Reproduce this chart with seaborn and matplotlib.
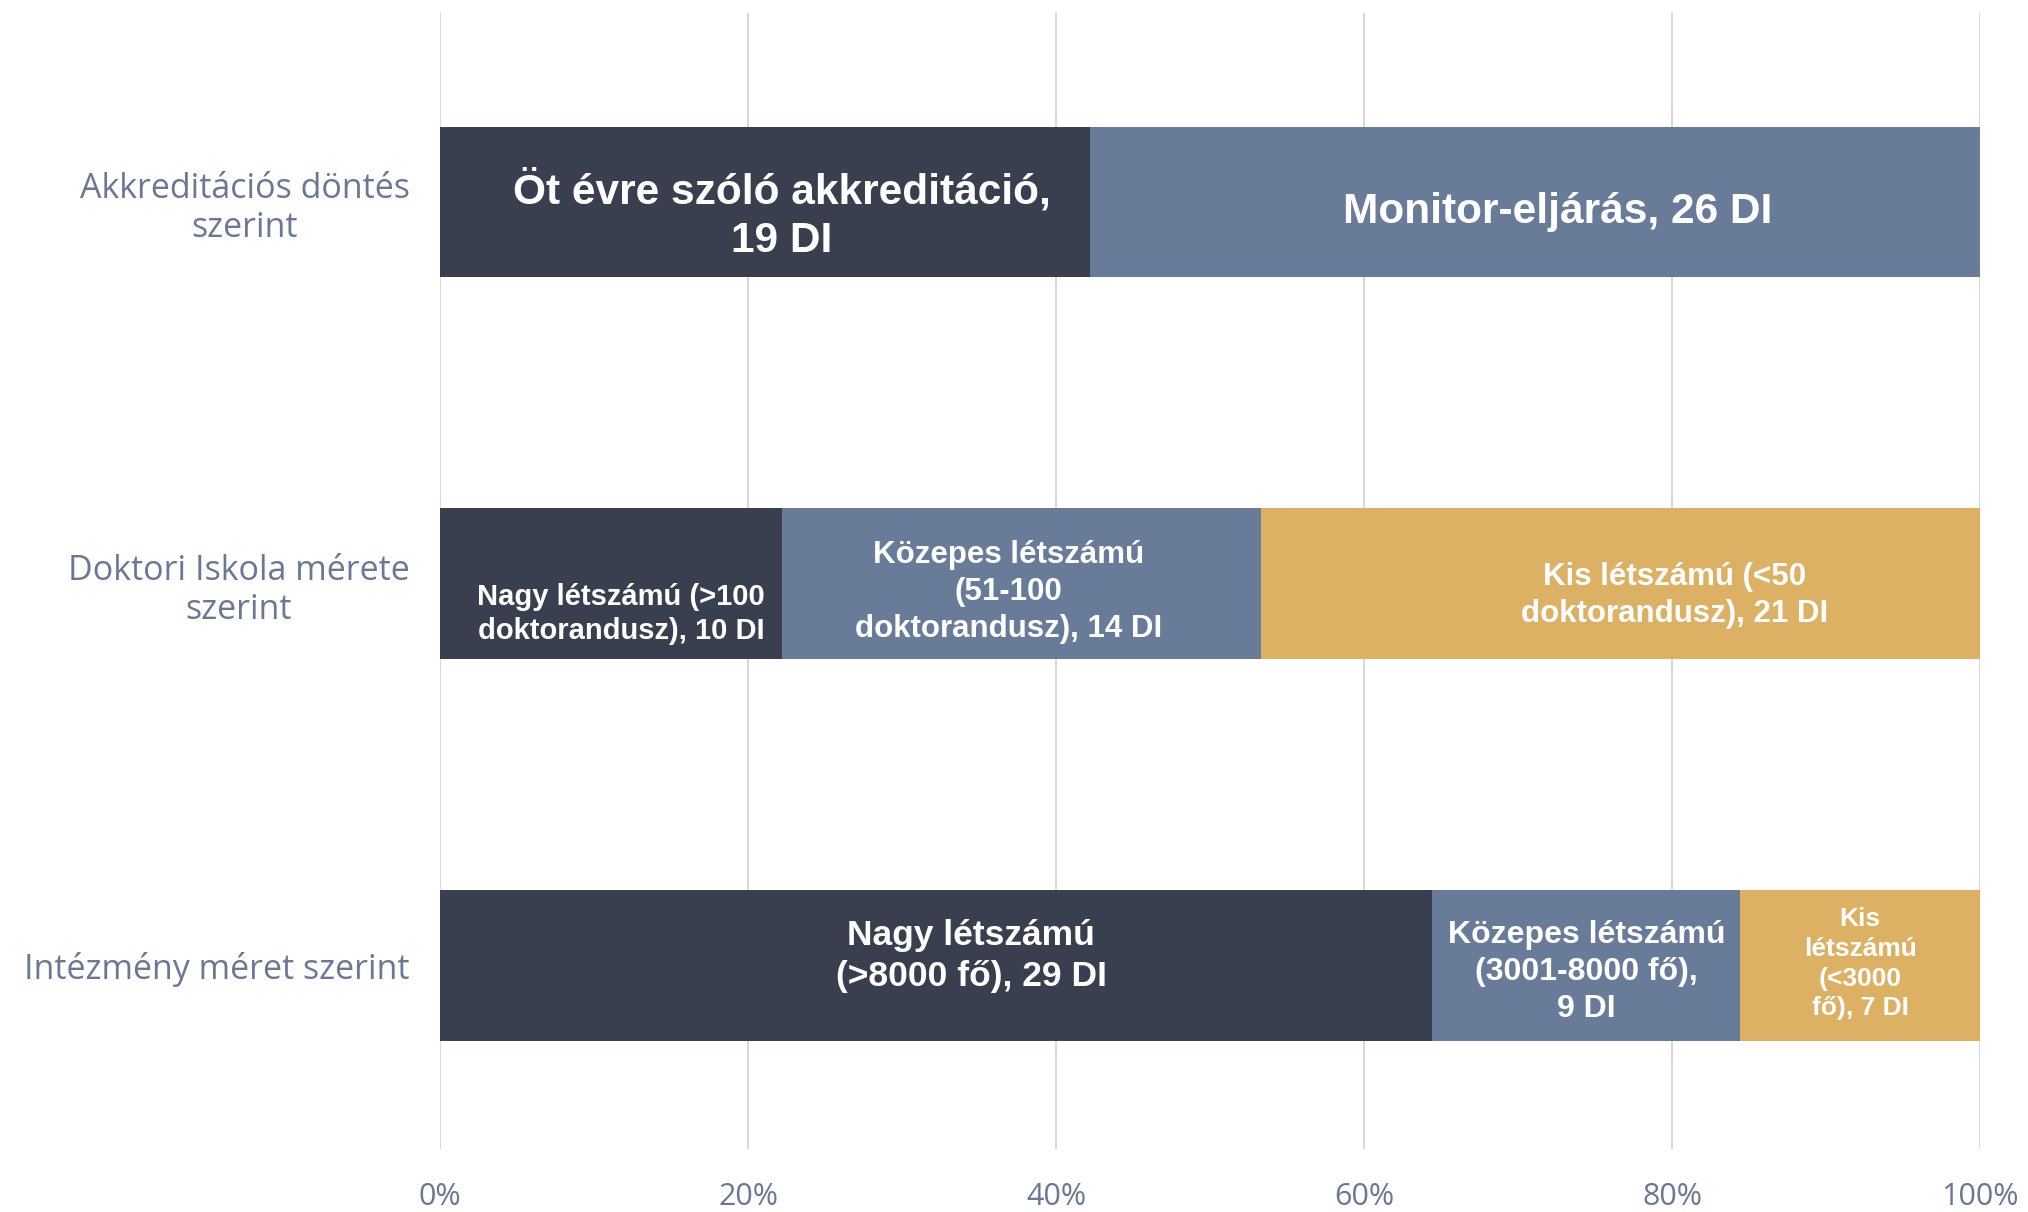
import matplotlib
matplotlib.use("Agg")
import matplotlib.pyplot as plt
import seaborn as sns
import pandas as pd
import numpy as np

# ---- data ----
rows = ["Akkreditációs döntés\nszerint", "Doktori Iskola mérete\nszerint", "Intézmény méret szerint"]
row1_counts = [19, 26]
row2_counts = [10, 14, 21]
row3_counts = [29, 9, 7]
row1_labels = ["Öt évre szóló akkreditáció,\n19 DI", "Monitor-eljárás, 26 DI"]
row2_labels = ["Nagy létszámú (>100\ndoktorandusz), 10 DI", "Közepes létszámú\n(51-100\ndoktorandusz), 14 DI",
               "Kis létszámú (<50\ndoktorandusz), 21 DI"]
row3_labels = ["Nagy létszámú\n(>8000 fő), 29 DI", "Közepes létszámú\n(3001-8000 fő),\n9 DI",
               "Kis\nlétszámú\n(<3000\nfő), 7 DI"]
tick_vals = [0, 20, 40, 60, 80, 100]
tick_labels = ["0%", "20%", "40%", "60%", "80%", "100%"]

counts = [row1_counts, row2_counts, row3_counts]
labels = [row1_labels, row2_labels, row3_labels]

# ---- styling ----
seg_colors = ["#3A3F4F", "#687B99", "#DDB163"]
axis_text = "#6A7796"
label_sizes = [[30.5, 30.5], [21, 22.5, 22.5], [25.5, 23, 19]]
label_offsets = [[(17, -13), (23, -10)],
                 [(10, -30), (-13, -8), (54, -12)],
                 [(35, 10), (0, -6), (0, 2)]]

recs = []
for r, (name, c) in enumerate(zip(rows, counts)):
    tot = sum(c)
    cum = 0
    for k, v in enumerate(c):
        pct = v / tot * 100
        recs.append(dict(row=name, seg=k, pct=pct, left=cum, cum=cum + pct, label=labels[r][k], r=r))
        cum += pct
df = pd.DataFrame(recs)

sns.set_theme(style="white")
fig = plt.figure(figsize=(20.28, 12.12), dpi=100)
ax = fig.add_axes([440 / 2028, 1 - 1149 / 1212, 1540 / 2028, (1149 - 13) / 1212])

for k in [2, 1, 0]:
    sub = df[df.seg == k]
    sns.barplot(data=sub, x="cum", y="row", order=rows, color=seg_colors[k],
                width=0.395, orient="h", ax=ax, saturation=1, edgecolor="none", linewidth=0, zorder=3)

for _, rec in df.iterrows():
    dx, dy = label_offsets[rec.r][rec.seg]
    ax.annotate(rec.label, xy=(rec.left + rec.pct / 2, rec.r), xytext=(dx, dy),
                textcoords="offset pixels", ha="center", va="center", multialignment="center",
                color="white", fontweight="bold", fontsize=label_sizes[rec.r][rec.seg],
                family=["Liberation Sans", "DejaVu Sans"], zorder=5, linespacing=1.3)

ax.set_xlim(0, 100)
ax.set_ylim(2.48, -0.495)
ax.set_xticks(tick_vals)
ax.set_xticklabels(tick_labels, fontsize=22, color=axis_text, family=["Open Sans", "DejaVu Sans"])
ax.tick_params(axis="x", length=0, pad=24)
ax.tick_params(axis="y", length=0, pad=22)
for t in ax.get_yticklabels():
    t.set_fontsize(24.5)
    t.set_color(axis_text)
    t.set_family(["Open Sans", "DejaVu Sans"])
    t.set_multialignment("center")
    t.set_linespacing(1.2)
ax.set_xlabel("")
ax.set_ylabel("")
ax.grid(axis="x", color="#D9D9D9", linewidth=1.5, zorder=0)
ax.grid(axis="y", visible=False)
ax.set_axisbelow(True)
for s in ax.spines.values():
    s.set_visible(False)

fig.savefig("out.png", dpi=100)
